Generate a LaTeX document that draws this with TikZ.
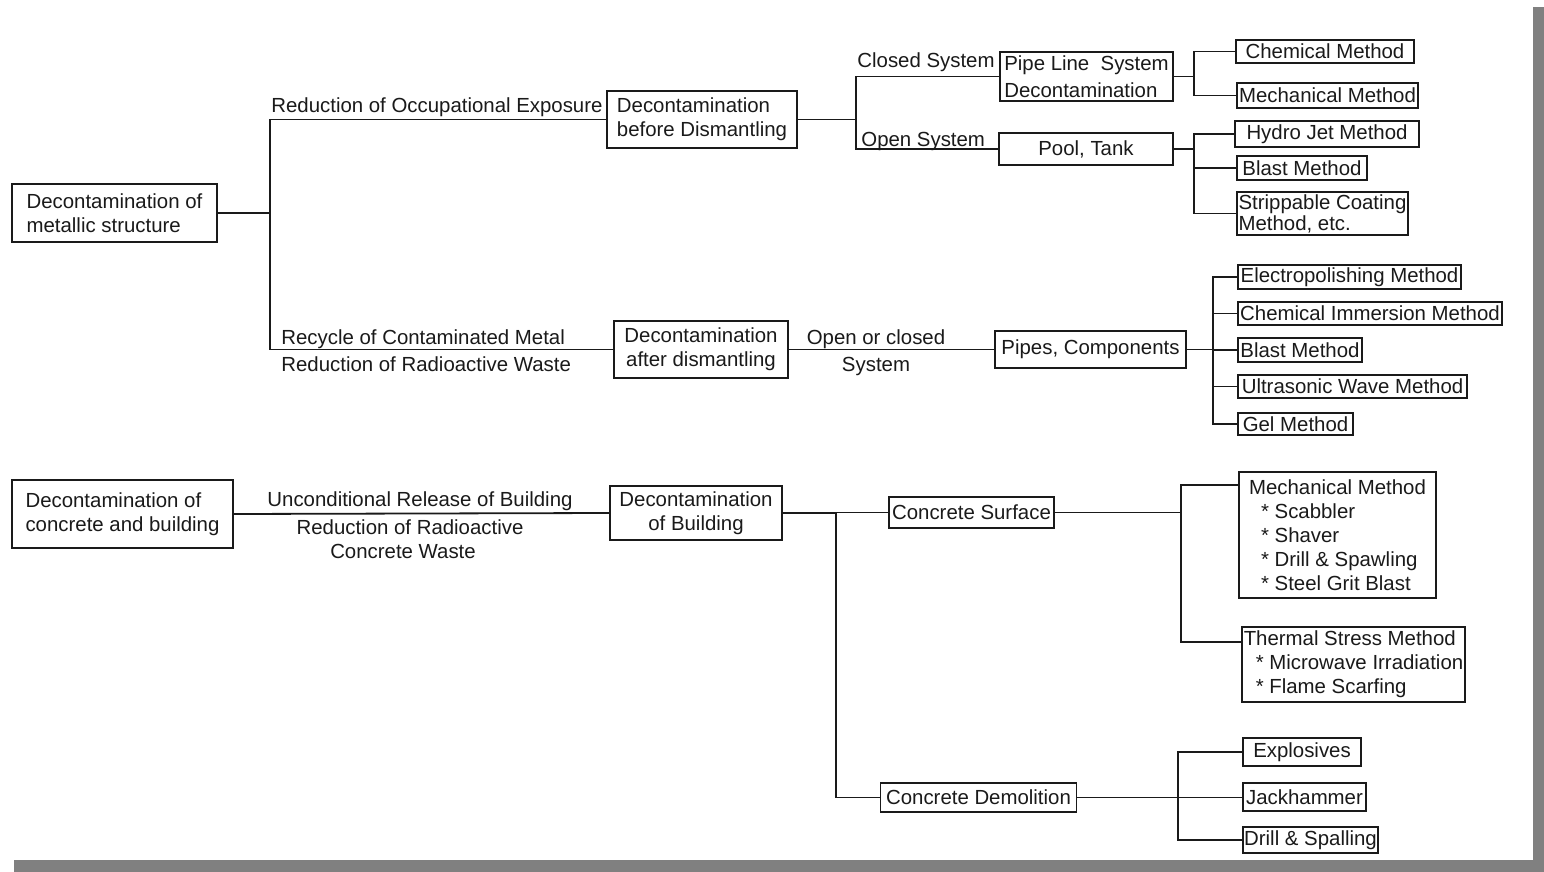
\documentclass[tikz,border=0pt]{standalone}
\usepackage{fontspec}
\setmainfont{Liberation Sans}
\definecolor{shadowgray}{HTML}{808080}
\definecolor{ink}{HTML}{1A1A1A}
\begin{document}
\begin{tikzpicture}[x=0.5pt,y=-0.5pt,
  every node/.style={font=\fontsize{10.2}{12}\selectfont, text=ink},
  bx/.style={draw=ink, line width=0.9pt, inner sep=0pt},
  lb/.style={inner sep=0pt, anchor=base west},
  lc/.style={inner sep=0pt, anchor=base},
  ln/.style={draw=ink, line width=0.9pt}]
\useasboundingbox (0,0) rectangle (1544,872);
\fill[white] (0,0) rectangle (1544,872);
\fill[shadowgray] (1533,7) rectangle (1544,872);
\fill[shadowgray] (14,860) rectangle (1544,872);

% ---------- metallic structure ----------
\node[bx, align=left, minimum width=102.5pt, minimum height=29pt] (A) at (114.5,213) {Decontamination of\\metallic structure};
\node[bx, align=left, minimum width=95pt, minimum height=28.5pt] (B) at (702,119.5) {Decontamination\\before Dismantling};
\node[bx, align=left, minimum width=86.5pt, minimum height=24.5pt, font=\fontsize{10.2}{13.5}\selectfont] (C) at (1086.5,76.5) {Pipe Line~~System\\Decontamination};
\node[bx, minimum width=87pt, minimum height=16pt] (D) at (1086,149) {Pool, Tank};
\node[bx, minimum width=89pt, minimum height=11.5pt] (E) at (1325,51.5) {Chemical Method};
\node[bx, minimum width=90.5pt, minimum height=12.5pt] (F) at (1327.5,95.5) {Mechanical Method};
\node[bx, minimum width=92pt, minimum height=13pt] (G) at (1327,134) {Hydro Jet Method};
\node[bx, minimum width=65pt, minimum height=12pt] (H) at (1302,168) {Blast Method};
\node[bx, align=left, minimum width=85.5pt, minimum height=21.5pt, font=\fontsize{10.2}{10.5}\selectfont] (I) at (1322.5,213.5) {Strippable Coating\\Method, etc.};
\node[bx, align=center, minimum width=87pt, minimum height=28.5pt] (J) at (701,349.5) {Decontamination\\after dismantling};
\node[bx, minimum width=95.5pt, minimum height=18.5pt] (K) at (1090.5,349.5) {Pipes, Components};
\node[bx, minimum width=111.5pt, minimum height=12pt] (L) at (1349.5,277) {Electropolishing Method};
\node[bx, minimum width=132pt, minimum height=11.5pt] (M) at (1370,313.5) {Chemical Immersion Method};
\node[bx, minimum width=62pt, minimum height=12pt] (N) at (1300,350) {Blast Method};
\node[bx, minimum width=114.5pt, minimum height=11.5pt] (O) at (1352.5,386.5) {Ultrasonic Wave Method};
\node[bx, minimum width=57.5pt, minimum height=11pt] (P) at (1295.5,424) {Gel Method};

% labels (metallic)
\node[lb] (lROE) at (271,113) {Reduction of Occupational Exposure};
\node[lb] (lCS) at (857,68) {Closed System};
\node[lb] (lOS) at (861,147) {Open System};
\node[lb] (lRCM) at (281,344) {Recycle of Contaminated Metal};
\node[lb] (lRRW) at (281,371) {Reduction of Radioactive Waste};
\node[lc] (lOC) at (876,344) {Open or closed};
\node[lc] (lSys) at (876,371) {System};

% junctions (metallic)
\coordinate (a1) at (270,213);
\coordinate (b1) at (856,119.5);
\coordinate (c1) at (1194,76.5);
\coordinate (d1) at (1194,149);
\coordinate (k1) at (1213,349.5);

\draw[ln] (A.east) -- (a1);
\draw[ln] (a1) |- (B.west);
\draw[ln] (a1) |- (J.west);
\draw[ln] (B.east) -- (b1);
\draw[ln] (b1) |- (C.west);
\draw[ln] (b1) |- (D.west);
\draw[ln] (C.east) -- (c1);
\draw[ln] (c1) |- (E.west);
\draw[ln] (c1) |- (F.west);
\draw[ln] (D.east) -- (d1);
\draw[ln] (d1) |- (G.west);
\draw[ln] (d1) |- (H.west);
\draw[ln] (d1) |- (I.west);
\draw[ln] (J.east) -- (K.west);
\draw[ln] (K.east) -- (k1);
\draw[ln] (k1) |- (L.west);
\draw[ln] (k1) |- (M.west);
\draw[ln] (k1) |- (N.west);
\draw[ln] (k1) |- (O.west);
\draw[ln] (k1) |- (P.west);

% ---------- concrete and building ----------
\node[bx, align=left, minimum width=110.5pt, minimum height=34pt] (Q) at (122.5,514) {Decontamination of\\concrete and building};
\node[bx, align=center, minimum width=86pt, minimum height=27pt] (R) at (696,513) {Decontamination\\of Building};
\node[bx, minimum width=82.5pt, minimum height=15.5pt] (S) at (971.5,512.5) {Concrete Surface};
\node[bx, minimum width=98pt, minimum height=14.5pt] (T) at (978.5,797.5) {Concrete Demolition};
\node[bx, align=left, minimum width=98.5pt, minimum height=63pt] (U) at (1337.5,535) {Mechanical Method\\\hspace*{6pt}* Scabbler\\\hspace*{6pt}* Shaver\\\hspace*{6pt}* Drill \& Spawling\\\hspace*{6pt}* Steel Grit Blast};
\node[bx, align=left, minimum width=111.5pt, minimum height=37.5pt] (V) at (1353.5,664.5) {Thermal Stress Method\\\hspace*{6pt}* Microwave Irradiation\\\hspace*{6pt}* Flame Scarfing};
\node[bx, minimum width=59pt, minimum height=14pt] (W) at (1302,752) {Explosives};
\node[bx, minimum width=61.5pt, minimum height=14pt] (X) at (1304.5,797) {Jackhammer};
\node[bx, minimum width=67.5pt, minimum height=13pt] (Y) at (1310.5,840) {Drill \& Spalling};

\node[lc] (lUR) at (420,506) {Unconditional Release of Building};
\node[lc] (lRR) at (410,534) {Reduction of Radioactive};
\node[lc] (lCW) at (403,558) {Concrete Waste};

\coordinate (r1) at (836,513);
\coordinate (s1) at (1181,512.5);
\coordinate (t1) at (1178,797.5);

\draw[ln] (Q.east) -- (R.west);
\draw[ln] (R.east) -- (r1);
\draw[ln] (r1) |- (S.west);
\draw[ln] (r1) |- (T.west);
\draw[ln] (S.east) -- (s1);
\draw[ln] (s1) |- ([yshift=-7pt]U.north west);
\draw[ln] (s1) |- ([yshift=-8pt]V.north west);
\draw[ln] (T.east) -- (T.east -| X.west);
\draw[ln] (t1) |- (W.west);
\draw[ln] (t1) |- (Y.west);
\end{tikzpicture}
\end{document}
